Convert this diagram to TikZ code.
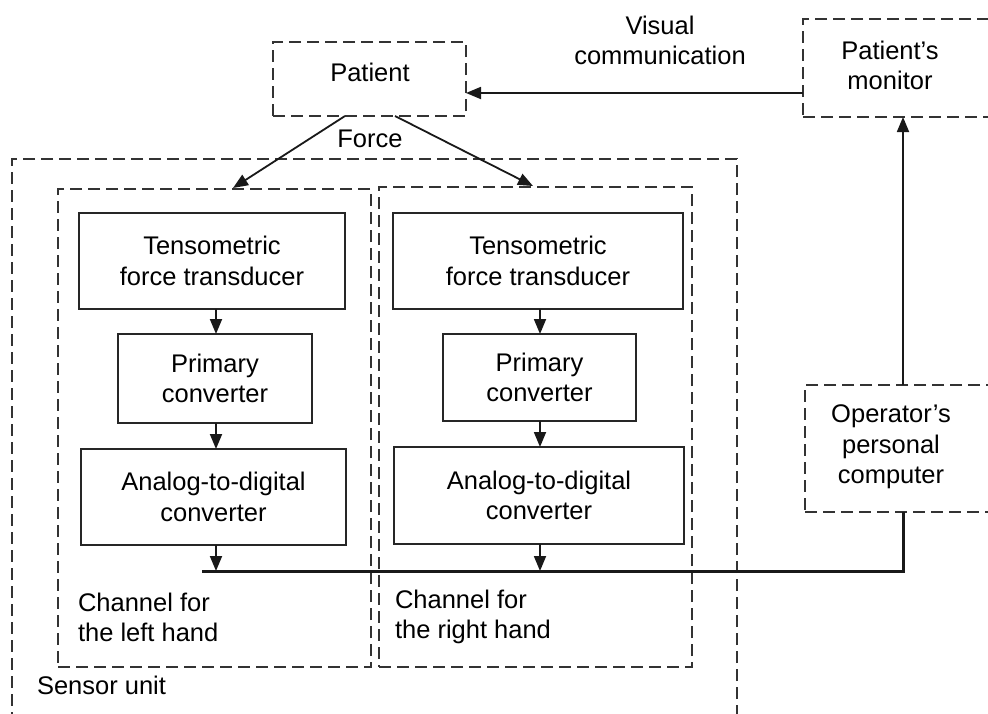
\documentclass[tikz,border=0pt]{standalone}
\usepackage{fontspec}
\setmainfont{Liberation Sans}
\usetikzlibrary{arrows.meta}
\begin{document}
\begin{tikzpicture}[x=1pt,y=-1pt,
  every node/.style={inner sep=0pt, outer sep=0pt, font=\fontsize{25.5}{30.5}\selectfont},
  solidbox/.style={draw=black!85, line width=1.7pt, align=center},
  dashbox/.style={draw=black!80, line width=2.1pt, dash pattern=on 12pt off 6pt},
  arr/.style={draw=black!90, line width=1.8pt, -{Triangle[length=15pt,width=12pt]}},
  busline/.style={draw=black!90, line width=3pt},
  lbl/.style={align=center},
  lbll/.style={align=left}]
\clip (0,0) rectangle (988,713);
\fill[white] (0,0) rectangle (988,713);

% containers
\node[dashbox, minimum width=725pt, minimum height=571pt] (sensor) at (374.5,444.5) {};
\node[dashbox, minimum width=313pt, minimum height=478pt] (lc) at (214.5,428) {};
\node[dashbox, minimum width=313pt, minimum height=480pt] (rc) at (535.5,427) {};

% patient
\node[dashbox, minimum width=193pt, minimum height=74pt] (patient) at (369.5,79) {};
\node[lbl] (patienttxt) at (370,72) {Patient};
\node[dashbox, minimum width=197pt, minimum height=98pt] (monitor) at (901.5,68) {};
\node[lbl, anchor=north] (monitortxt) at (890,41) {Patient’s\\monitor};
\node[dashbox, minimum width=195pt, minimum height=127pt] (pc) at (902.5,448.5) {};
\node[lbl, anchor=north] (pctxt) at (891,405) {Operator’s\\personal\\computer};

% left channel
\node[solidbox, minimum width=266pt, minimum height=96pt] (lt) at (212,261) {Tensometric\\force transducer};
\node[solidbox, minimum width=194pt, minimum height=89pt] (lp) at (215,378.5) {Primary\\converter};
\node[solidbox, minimum width=265pt, minimum height=96pt] (la) at (213.5,497) {Analog-to-digital\\converter};
% right channel
\node[solidbox, minimum width=290pt, minimum height=96pt] (rt) at (538,261) {Tensometric\\force transducer};
\node[solidbox, minimum width=193pt, minimum height=87pt] (rp) at (539.5,377.5) {Primary\\converter};
\node[solidbox, minimum width=290pt, minimum height=97pt] (ra) at (539,495.5) {Analog-to-digital\\converter};

% labels
\node[lbl] (force) at (370,139) {Force};
\node[lbl, anchor=north] (visual) at (660,16) {Visual\\communication};
\node[lbll, anchor=north west] (lclbl) at (78,593) {Channel for\\the left hand};
\node[lbll, anchor=north west] (rclbl) at (395,590) {Channel for\\the right hand};
\node[lbll, anchor=north west] (sensorlbl) at (37,676) {Sensor unit};

% coordinates
\coordinate (busL) at (202,571);
\coordinate (busR) at (903,571);
\coordinate (fl0) at (345,116);
\coordinate (fl1) at (233,188);
\coordinate (fr0) at (395,116);
\coordinate (fr1) at (533,186);
\coordinate (vc0) at (803,93);
\coordinate (vc1) at (466,93);

% connectors
\draw[arr] (fl0) -- (fl1);
\draw[arr] (fr0) -- (fr1);
\draw[arr] (vc0) -- (vc1);
\draw[arr] (lt.south -| 216,0) -- (lp.north -| 216,0);
\draw[arr] (lp.south -| 216,0) -- (la.north -| 216,0);
\draw[arr] (la.south -| 216,0) -- (busL -| 216,0);
\draw[arr] (rt.south -| 540,0) -- (rp.north -| 540,0);
\draw[arr] (rp.south -| 540,0) -- (ra.north -| 540,0);
\draw[arr] (ra.south -| 540,0) -- (busL -| 540,0);
\draw[busline] (busL) -- (busR) -- (busR |- pc.south);
\draw[arr] (pc.north -| busR) -- (monitor.south -| busR);
\end{tikzpicture}
\end{document}
